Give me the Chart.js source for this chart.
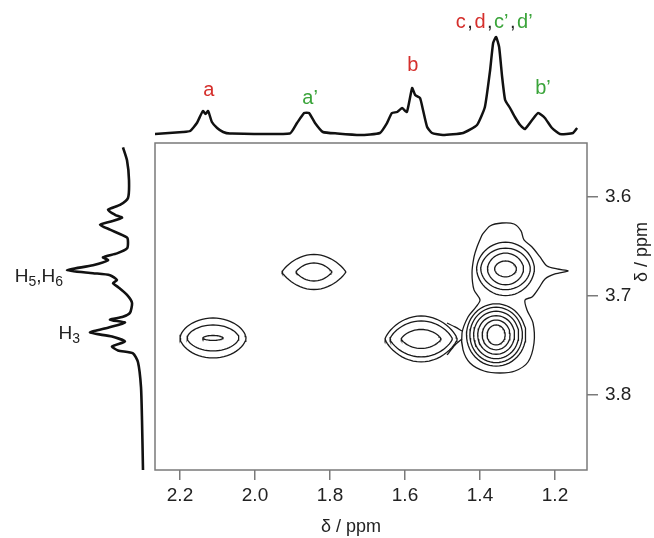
<!DOCTYPE html>
<html lang="en">
<head>
<meta charset="utf-8">
<script src="https://cdn.jsdelivr.net/npm/chart.js"></script>
<style>
  html, body { margin: 0; padding: 0; background: #fff; }
  #wrap { position: relative; width: 654px; height: 538px; }
  #wrap canvas { position: absolute; }
</style>
</head>
<body>
<div id="wrap">
  <canvas id="mainChart" width="654" height="538" style="left:0;top:0"></canvas>
  <canvas id="topChart" width="432" height="140" style="left:155px;top:0"></canvas>
  <canvas id="sideChart" width="150" height="327" style="left:0;top:143px"></canvas>
</div>

<script>
  // axis ranges (ppm), both axes run "backwards"
  const xRange = [1.1147, 2.2667];
  const yRange = [3.5455, 3.8758];
  const xTicks = [2.2, 2.0, 1.8, 1.6, 1.4, 1.2];
  const yTicks = [3.6, 3.7, 3.8];

  // 1D projection on top (F2)
  const topPpm = [2.267, 2.192, 2.173, 2.155, 2.139, 2.132, 2.125, 2.115, 2.101, 2.085, 2.067,
    1.907, 1.888, 1.869, 1.856, 1.840, 1.819, 1.781, 1.720, 1.667, 1.648, 1.635, 1.621, 1.608,
    1.595, 1.581, 1.573, 1.560, 1.552, 1.541, 1.528, 1.499, 1.445, 1.408, 1.387, 1.373, 1.365,
    1.357, 1.349, 1.341, 1.333, 1.320, 1.307, 1.293, 1.280, 1.261, 1.245, 1.227, 1.208, 1.187,
    1.152, 1.141];
  const topInt = [6, 8, 9, 17, 29, 26, 29, 18, 12, 8, 6.5,
    6.5, 17, 27, 27, 17, 8, 6.5, 5, 7, 17, 27, 28, 32,
    28, 52, 45, 42, 30, 13, 7, 5, 7, 15, 33, 70, 97,
    103, 93, 63, 40, 32, 23, 15, 11, 20, 27, 22, 12, 6,
    7, 12];

  // 1D projection on the left (F1)
  const sidePpm = [3.550, 3.563, 3.583, 3.601, 3.608, 3.613, 3.618, 3.621, 3.625, 3.628, 3.633,
    3.641, 3.646, 3.652, 3.657, 3.661, 3.664, 3.669, 3.674, 3.677, 3.679, 3.684, 3.687, 3.691,
    3.699, 3.707, 3.717, 3.721, 3.724, 3.727, 3.732, 3.737, 3.741, 3.746, 3.751, 3.755, 3.758,
    3.767, 3.792, 3.825, 3.876];
  const sideInt = [27, 23, 21, 22, 30, 42, 35, 28, 40, 50, 40,
    23, 22, 23, 33, 47, 42, 57, 83, 57, 40, 33, 37, 32,
    23, 18, 20, 27, 40, 25, 42, 60, 38, 25, 38, 32, 17,
    12, 9, 8, 7];

  // cross peaks: centre, contour half-widths (ppm) and how pointed the ends are
  const peakX = [2.112, 1.843, 1.557, 1.332, 1.357];
  const peakY = [3.7424, 3.6758, 3.7434, 3.6727, 3.7394];
  const peakShape = [0.6, 0.85, 0.75, 0.55, 0.5];
  const peakRx = [
    [0.088, 0.069, 0.027],
    [0.085, 0.048],
    [0.096, 0.083, 0.053],
    [0.029, 0.048, 0.066, 0.077],
    [0.024, 0.037, 0.049, 0.06, 0.07, 0.079]
  ];
  const peakRy = [
    [0.0202, 0.0131, 0.0025],
    [0.0177, 0.0091],
    [0.0232, 0.0182, 0.0096],
    [0.008, 0.016, 0.021, 0.027],
    [0.0101, 0.015, 0.0195, 0.024, 0.028, 0.0315]
  ];

  // lowest contour around the two big peaks (with the tail to the right)
  const envX = [1.3947, 1.3733, 1.3413, 1.3093, 1.2907, 1.2827, 1.2613, 1.2400, 1.2213, 1.1947,
    1.1653, 1.2000, 1.2267, 1.2427, 1.2613, 1.2800, 1.2747, 1.2587, 1.256, 1.272, 1.3067, 1.3467,
    1.3893, 1.4267, 1.4453, 1.448, 1.432, 1.4107, 1.40, 1.416, 1.4213, 1.416, 1.408, 1.3947];
  const envY = [3.6384, 3.6293, 3.6263, 3.6273, 3.6343, 3.6434, 3.6505, 3.6606, 3.6697, 3.6727,
    3.6747, 3.6778, 3.6828, 3.6919, 3.7010, 3.7040, 3.7141, 3.7273, 3.7475, 3.7667, 3.7758, 3.7778,
    3.7758, 3.7677, 3.7545, 3.7374, 3.7212, 3.7111, 3.704, 3.6939, 3.6768, 3.6606, 3.6505, 3.6384];
  // neck joining peak b to the big peaks
  const neckUpX = [1.488, 1.4667, 1.448];
  const neckUpY = [3.7273, 3.7313, 3.7354];
  const neckLoX = [1.488, 1.4667, 1.448];
  const neckLoY = [3.7596, 3.7495, 3.7434];

  const FONT = '"Liberation Sans", Arial, sans-serif';
  const RED = '#d52f2c';
  const GREEN = '#3aa43a';

  function ring(cx, cy, rx, ry, q) {
    const pts = [];
    for (let i = 0; i <= 56; i++) {
      const t = i / 56 * 2 * Math.PI;
      const c = Math.cos(t), s = Math.sin(t);
      // q = 0.5 is an ellipse, bigger q makes lens shaped ends
      const h = Math.pow(Math.max(0, 1 - c * c), q);
      pts.push({ x: cx + rx * c, y: cy + ry * Math.sign(s) * h });
    }
    return pts;
  }

  function zipXY(xs, ys) {
    return xs.map((x, i) => ({ x: x, y: ys[i] }));
  }

  const contourSets = [];
  const lineStyle = { showLine: true, borderColor: '#1a1a1a', borderWidth: 1.3, pointRadius: 0, fill: false };
  peakX.forEach((cx, p) => {
    peakRx[p].forEach((rx, k) => {
      contourSets.push(Object.assign({ data: ring(cx, peakY[p], rx, peakRy[p][k], peakShape[p]) }, lineStyle));
    });
  });
  contourSets.push(Object.assign({ data: zipXY(envX, envY), tension: 0.3 }, lineStyle));
  contourSets.push(Object.assign({ data: zipXY(neckUpX, neckUpY), tension: 0.3 }, lineStyle));
  contourSets.push(Object.assign({ data: zipXY(neckLoX, neckLoY), tension: 0.3 }, lineStyle));

  const framePlugin = {
    id: 'frame',
    afterDraw(chart) {
      const ctx = chart.ctx, a = chart.chartArea;
      ctx.save();
      ctx.strokeStyle = '#7a7a7a';
      ctx.lineWidth = 1.5;
      ctx.strokeRect(a.left, a.top, a.right - a.left, a.bottom - a.top);
      ctx.fillStyle = '#222';
      ctx.font = '18px ' + FONT;
      ctx.textAlign = 'center';
      ctx.textBaseline = 'middle';
      ctx.fillText('δ / ppm', 351, 527);
      ctx.translate(642, 252);
      ctx.rotate(-Math.PI / 2);
      ctx.fillText('δ / ppm', 0, 0);
      ctx.restore();
    }
  };

  const tickFont = { size: 19, family: FONT };

  new Chart(document.getElementById('mainChart'), {
    type: 'scatter',
    data: { datasets: contourSets },
    options: {
      responsive: false,
      animation: false,
      layout: { padding: { left: 155, top: 143 } },
      plugins: { legend: { display: false }, tooltip: { enabled: false } },
      scales: {
        x: {
          type: 'linear', position: 'bottom', reverse: true,
          min: xRange[0], max: xRange[1],
          afterBuildTicks: s => { s.ticks = xTicks.map(v => ({ value: v })); },
          afterFit: s => { s.height = 68; },
          border: { display: false },
          grid: { drawOnChartArea: false, tickLength: 10, color: '#7a7a7a', lineWidth: 1.5 },
          ticks: { padding: 4, color: '#222', font: tickFont, maxRotation: 0, autoSkip: false,
                   callback: v => v.toFixed(1) }
        },
        y: {
          type: 'linear', position: 'right', reverse: true,
          min: yRange[0], max: yRange[1],
          afterBuildTicks: s => { s.ticks = yTicks.map(v => ({ value: v })); },
          afterFit: s => { s.width = 67; },
          border: { display: false },
          grid: { drawOnChartArea: false, tickLength: 11, color: '#7a7a7a', lineWidth: 1.5 },
          ticks: { padding: 7, color: '#222', font: tickFont, autoSkip: false,
                   callback: v => v.toFixed(1) }
        }
      }
    },
    plugins: [framePlugin]
  });

  // labels above the top trace: [text parts], ppm and height
  const topLabels = [
    { parts: [['a', RED]], ppm: 2.123, h: 50 },
    { parts: [['a’', GREEN]], ppm: 1.853, h: 42 },
    { parts: [['b', RED]], ppm: 1.579, h: 75 },
    { parts: [['c', RED], [',', '#222'], ['d', RED], [',', '#222'], ['c’', GREEN], [',', '#222'], ['d’', GREEN]], ppm: 1.362, h: 118 },
    { parts: [['b’', GREEN]], ppm: 1.232, h: 52 }
  ];

  const topLabelPlugin = {
    id: 'topLabels',
    afterDraw(chart) {
      const ctx = chart.ctx;
      const sx = chart.scales.x, sy = chart.scales.y;
      ctx.save();
      ctx.font = '20px ' + FONT;
      ctx.textBaseline = 'middle';
      ctx.textAlign = 'left';
      topLabels.forEach(l => {
        const gap = l.parts.length > 1 ? 1.5 : 0;
        const w = l.parts.reduce((s, p) => s + ctx.measureText(p[0]).width + gap, 0) - gap;
        let x = sx.getPixelForValue(l.ppm) - w / 2;
        const y = sy.getPixelForValue(l.h);
        l.parts.forEach(p => {
          ctx.fillStyle = p[1];
          ctx.fillText(p[0], x, y);
          x += ctx.measureText(p[0]).width + gap;
        });
      });
      ctx.restore();
    }
  };

  new Chart(document.getElementById('topChart'), {
    type: 'scatter',
    data: { datasets: [{
      data: zipXY(topPpm, topInt), showLine: true, borderColor: '#111', borderWidth: 2.5,
      pointRadius: 0, tension: 0.15, borderJoinStyle: 'round'
    }] },
    options: {
      responsive: false, animation: false,
      plugins: { legend: { display: false }, tooltip: { enabled: false } },
      scales: {
        x: { type: 'linear', display: false, reverse: true, min: xRange[0], max: xRange[1] },
        y: { type: 'linear', display: false, min: 0, max: 140 }
      }
    },
    plugins: [topLabelPlugin]
  });

  // proton labels beside the left trace
  const sideLabels = [
    { parts: [['H', 0], ['5', 1], [',', 0], ['H', 0], ['6', 1]], ppm: 3.6859, right: 87 },
    { parts: [['H', 0], ['3', 1]], ppm: 3.7434, right: 70 }
  ];

  const sideLabelPlugin = {
    id: 'sideLabels',
    afterDraw(chart) {
      const ctx = chart.ctx;
      const sx = chart.scales.x, sy = chart.scales.y;
      const big = '19px ' + FONT, small = '14px ' + FONT;
      ctx.save();
      ctx.fillStyle = '#222';
      ctx.textBaseline = 'alphabetic';
      ctx.textAlign = 'left';
      sideLabels.forEach(l => {
        let w = 0;
        l.parts.forEach(p => { ctx.font = p[1] ? small : big; w += ctx.measureText(p[0]).width; });
        let x = sx.getPixelForValue(l.right) - w;
        const base = sy.getPixelForValue(l.ppm);
        l.parts.forEach(p => {
          ctx.font = p[1] ? small : big;
          ctx.fillText(p[0], x, p[1] ? base + 4 : base);
          x += ctx.measureText(p[0]).width;
        });
      });
      ctx.restore();
    }
  };

  new Chart(document.getElementById('sideChart'), {
    type: 'scatter',
    data: { datasets: [{
      data: sideInt.map((v, i) => ({ x: v, y: sidePpm[i] })), showLine: true, borderColor: '#111',
      borderWidth: 2.6, pointRadius: 0, tension: 0.2, borderJoinStyle: 'round'
    }] },
    options: {
      responsive: false, animation: false,
      plugins: { legend: { display: false }, tooltip: { enabled: false } },
      scales: {
        x: { type: 'linear', display: false, reverse: true, min: 0, max: 150 },
        y: { type: 'linear', display: false, reverse: true, min: yRange[0], max: yRange[1] }
      }
    },
    plugins: [sideLabelPlugin]
  });
</script>
</body>
</html>
